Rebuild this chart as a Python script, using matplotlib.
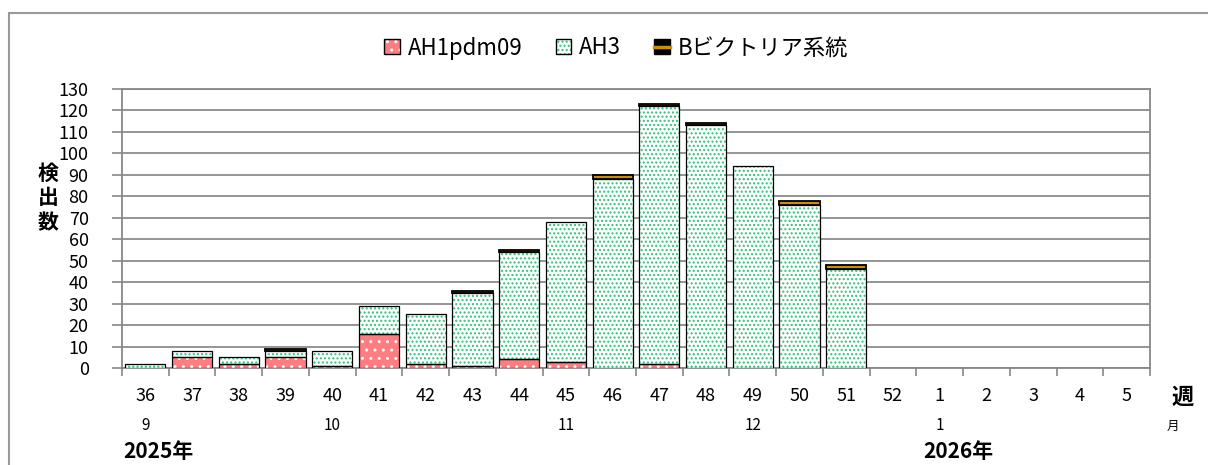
import matplotlib
matplotlib.use("Agg")
import matplotlib.pyplot as plt
import numpy as np
from matplotlib.patches import Patch, Rectangle
from matplotlib.lines import Line2D
import matplotlib.transforms as mtransforms

plt.rcParams['font.family'] = ['Noto Sans CJK JP', 'DejaVu Sans']
plt.rcParams['hatch.linewidth'] = 1.0

# data
weeks = ['36', '37', '38', '39', '40', '41', '42', '43', '44', '45', '46',
         '47', '48', '49', '50', '51', '52', '1', '2', '3', '4', '5']
ah1 = [0, 5, 2, 5, 1, 16, 2, 1, 4, 3, 0, 2, 0, 0, 0, 0, 0, 0, 0, 0, 0, 0]
ah3 = [2, 3, 3, 3, 7, 13, 23, 34, 50, 65, 88, 120, 113, 94, 76, 46, 0, 0, 0, 0, 0, 0]
bvic = [0, 0, 0, 1, 0, 0, 0, 1, 1, 0, 2, 1, 1, 0, 2, 2, 0, 0, 0, 0, 0, 0]
series_names = ['AH1pdm09', 'AH3', 'Bビクトリア系統']
month_pos = [0, 4, 9, 13, 17]
month_labels = ['9', '10', '11', '12', '1']
year_pos = [0, 17]
year_labels = ['2025年', '2026年']
yticks = list(range(0, 131, 10))

W, H = 1208, 465
fig = plt.figure(figsize=(W / 100, H / 100), dpi=100)
ax = fig.add_axes([122 / W, 1 - 368 / H, 1028 / W, 279 / H])

x = np.arange(len(weeks))
ah1 = np.array(ah1)
ah3 = np.array(ah3)
bvic = np.array(bvic)
bw = 0.86

red = '#ff7c80'
green = '#2ec27a'
gold = '#c8900a'


def stack(vals, bottom, face, hatch, hcolor, lw=0.9):
    # skip empty segments so no zero-height outlines are drawn
    m = vals > 0
    if hatch:
        ax.bar(x[m], vals[m], bw, bottom=bottom[m], color=face, edgecolor=hcolor,
               hatch=hatch, linewidth=0, zorder=3)
        ax.bar(x[m], vals[m], bw, bottom=bottom[m], facecolor='none',
               edgecolor='black', linewidth=lw, zorder=4)
    else:
        ax.bar(x[m], vals[m], bw, bottom=bottom[m], color=face,
               edgecolor='black', linewidth=lw, zorder=4)


zero = np.zeros(len(weeks))
stack(ah1, zero, red, '..', 'white')
stack(ah3, ah1, 'white', '....', green)
stack(bvic, ah1 + ah3, gold, None, None, lw=1.3)

ax.set_xlim(-0.5, len(weeks) - 0.5)
ax.set_ylim(0, 130)
ax.set_yticks(yticks)
ax.tick_params(axis='y', direction='out', length=7, width=1.2, color='#888888',
               labelsize=13, pad=17)
ax.grid(axis='y', color='#8c8c8c', linewidth=1.3, zorder=0)
ax.set_axisbelow(True)
for s in ax.spines.values():
    s.set_color('#888888')
    s.set_linewidth(1.3)

ax.set_xticks(x)
ax.set_xticklabels(weeks)
ax.tick_params(axis='x', length=0, labelsize=13, pad=14)
ax.set_xticks(np.arange(-0.5, len(weeks)), minor=True)
ax.tick_params(axis='x', which='minor', length=6, width=1.2, color='#888888')

trans = mtransforms.blended_transform_factory(ax.transData, fig.transFigure)
for p, lab in zip(month_pos, month_labels):
    ax.text(p, 1 - 425 / H, lab, transform=trans, ha='center', va='center', fontsize=11)
for p, lab in zip(year_pos, year_labels):
    ax.text(p - 0.5 + (0.02 if p == 0 else 0.15), 1 - 451 / H, lab, transform=trans,
            ha='left', va='center', fontsize=15, fontweight='bold')

fig.text(1183 / W, 1 - 397 / H, '週', ha='center', va='center', fontsize=16, fontweight='bold')
fig.text(1173 / W, 1 - 426 / H, '月', ha='center', va='center', fontsize=9)
fig.text(48 / W, 1 - 198 / H, '検\n出\n数', ha='center', va='center', fontsize=15,
         fontweight='bold', linespacing=1.2)

# legend
h1 = (Patch(facecolor=red, edgecolor='white', hatch='..', linewidth=0),
      Patch(facecolor='none', edgecolor='black', linewidth=1))
h2 = (Patch(facecolor='white', edgecolor=green, hatch='....', linewidth=0),
      Patch(facecolor='none', edgecolor='black', linewidth=1))
h3 = (Patch(facecolor='black', edgecolor='black', linewidth=1),
      Line2D([0], [0], color=gold, linewidth=2.5))
fig.legend([h1, h2, h3], series_names, loc='center', ncol=3,
           bbox_to_anchor=(616 / W, 1 - 48 / H), frameon=False, fontsize=16,
           handlelength=0.7, handleheight=0.7, handletextpad=0.35, columnspacing=1.5)

# outer chart border
fig.patches.append(Rectangle((9 / W, -0.1), 2, 1.1 - 12.7 / H, transform=fig.transFigure,
                             fill=False, edgecolor='#999999', linewidth=1.5))

fig.savefig('out.png', dpi=100)
